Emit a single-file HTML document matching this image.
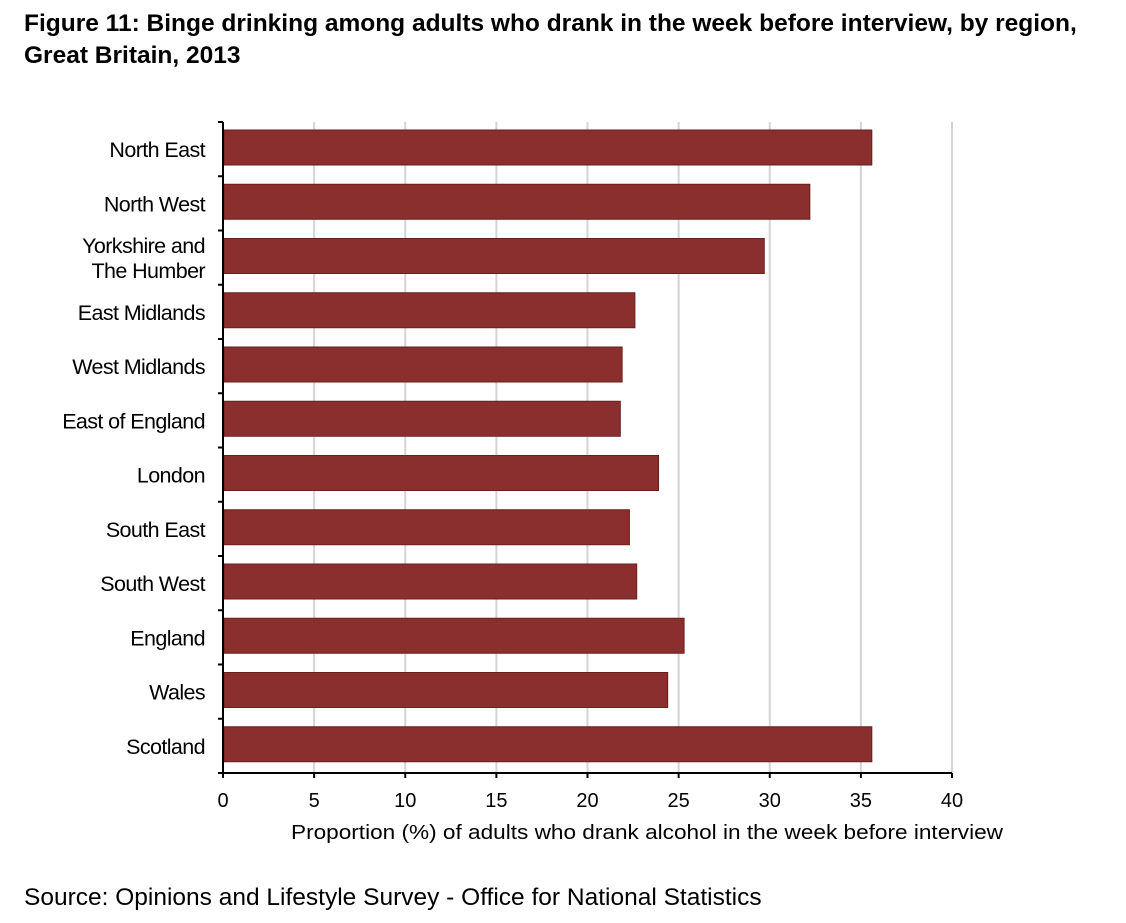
<!DOCTYPE html>
<html><head><meta charset="utf-8"><style>
body{margin:0;background:#fff;width:1126px;height:923px;overflow:hidden;font-family:"Liberation Sans",sans-serif}
.t{position:absolute;left:24px;top:8px;font-weight:bold;font-size:24.5px;line-height:32px;color:#000;white-space:nowrap}
.s{position:absolute;left:24px;top:884px;font-size:24.5px;color:#000;white-space:nowrap}
</style></head><body>
<div class="t">Figure 11: Binge drinking among adults who drank in the week before interview, by region,<br>Great Britain, 2013</div>
<svg id="c" width="1126" height="923" style="position:absolute;left:0;top:0"></svg>
<div class="s">Source: Opinions and Lifestyle Survey - Office for National Statistics</div>
<script>
const categories=["North East","North West","Yorkshire and|The Humber","East Midlands","West Midlands","East of England","London","South East","South West","England","Wales","Scotland"];
const values=[35.6,32.2,29.7,22.6,21.9,21.8,23.9,22.3,22.7,25.3,24.4,35.6];
const xTicks=[0,5,10,15,20,25,30,35,40];
const NS="http://www.w3.org/2000/svg";
const svg=document.getElementById('c');
const x0=223,x1=952,y0=122,y1=773;
const xs=v=>x0+(v-0)/(40-0)*(x1-x0);
const band=(y1-y0)/categories.length;
function mk(t,a){const e=document.createElementNS(NS,t);for(const k in a)e.setAttribute(k,a[k]);svg.appendChild(e);return e;}
xTicks.forEach(v=>{
 if(v>0){const g=mk('line',{x1:xs(v),x2:xs(v),y1:y0,y2:y1,stroke:'#d4d4d4','stroke-width':2});
 
 }
 const tk=mk('line',{x1:xs(v),x2:xs(v),y1:y1,y2:y1+5,stroke:'#000','stroke-width':2});
 
 
 const tl=mk('text',{x:xs(v),y:y1+34,'text-anchor':'middle','font-size':20,fill:'#000','font-family':'Liberation Sans, sans-serif'});
 tl.textContent=v;
 
 
});
categories.forEach((c,i)=>{
 const top=y0+band*i;
 const r=mk('rect',{x:x0+1,y:top+8,width:xs(values[i])-x0-1,height:35,fill:'#8b2e2e',stroke:'#6a1f1f','stroke-width':1});
 
 
 const parts=c.split('|');
 const cy=top+band/2;
 parts.forEach((p,j)=>{
  const t=mk('text',{x:205,y:cy+8+(j-(parts.length-1)/2)*25,'text-anchor':'end','font-size':21.5,'letter-spacing':-0.6,fill:'#000','font-family':'Liberation Sans, sans-serif'});
  t.textContent=p;
  
  
 });
});
for(let i=0;i<=categories.length;i++){
 const y=y0+band*i;
 const tk=mk('line',{x1:x0-5,x2:x0,y1:y,y2:y,stroke:'#000','stroke-width':2});
 
 
}
const ya=mk('line',{x1:x0,x2:x0,y1:y0,y2:y1,stroke:'#000','stroke-width':2});


const xa=mk('line',{x1:x0-5,x2:x1,y1:y1,y2:y1,stroke:'#000','stroke-width':2});


const xt=mk('text',{x:291,y:839,'font-size':20,fill:'#000','font-family':'Liberation Sans, sans-serif',textLength:712,lengthAdjust:'spacingAndGlyphs'});
xt.textContent='Proportion (%) of adults who drank alcohol in the week before interview';


</script>
</body></html>
